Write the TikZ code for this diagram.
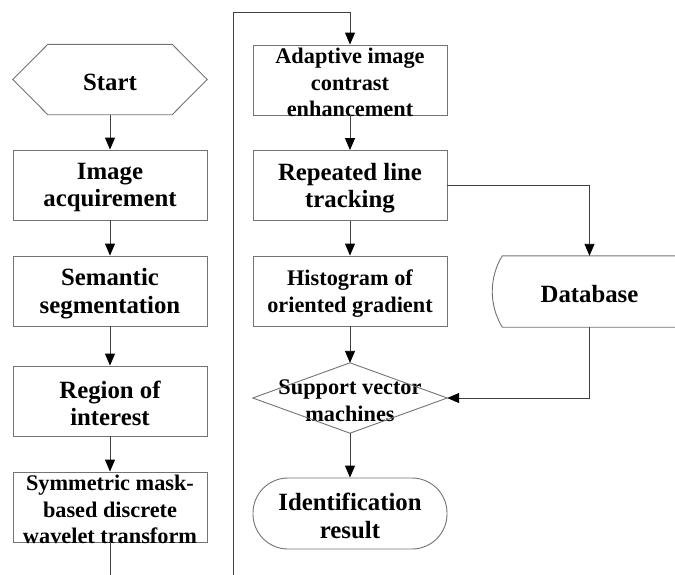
\documentclass[tikz,border=0pt]{standalone}
\usepackage{fontspec}
\setmainfont{Liberation Serif}
\usetikzlibrary{arrows.meta}

% fixed-size text block so every box keeps its drawn size
\newcommand\bigcell[1]{\parbox[c][60pt][c]{192pt}{\vspace*{5pt}\centering\fontsize{24.8}{27.5}\selectfont\bfseries #1}}
\newcommand\smallcell[1]{\parbox[c][60pt][c]{192pt}{\vspace*{5pt}\centering\fontsize{22.3}{26.5}\selectfont\bfseries #1}}

\begin{document}
\begin{tikzpicture}[x=1pt,y=-1pt,
  outline/.style={draw=black!55,line width=0.9pt},
  stepbox/.style={outline,rectangle,minimum width=194pt,minimum height=70pt,inner sep=0pt},
  bare/.style={rectangle,minimum width=194pt,minimum height=70pt,inner sep=0pt},
  flow/.style={draw=black!75,line width=0.9pt,-{Triangle[length=12pt,width=10pt,color=black]}},
  plain/.style={draw=black!75,line width=0.9pt}]

\useasboundingbox (0,0) rectangle (675,574);

% left column
\node[bare] (start) at (110,79.5) {\bigcell{Start}};
\draw[outline] (start.west) -- ([xshift=35pt]start.north west) -- ([xshift=-35pt]start.north east)
  -- (start.east) -- ([xshift=-35pt]start.south east) -- ([xshift=35pt]start.south west) -- cycle;
\node[stepbox] (img) at (110,185) {\bigcell{Image\\acquirement}};
\node[stepbox] (seg) at (110,291) {\bigcell{Semantic\\segmentation}};
\node[stepbox] (roi) at (110,401) {\bigcell{Region of\\interest}};
\node[stepbox] (sym) at (110,507) {\smallcell{Symmetric mask-\\based discrete\\wavelet transform}};

% right column
\node[stepbox] (ace) at (350,80) {\smallcell{Adaptive image\\contrast\\enhancement}};
\node[stepbox] (rlt) at (350,185.5) {\bigcell{Repeated line\\tracking}};
\node[stepbox] (hog) at (350,291) {\smallcell{Histogram of\\oriented gradient}};
\node[bare] (svm) at (350,398) {\smallcell{Support vector\\machines}};
\draw[outline] (svm.west) -- (svm.north) -- (svm.east) -- (svm.south) -- cycle;
\node[stepbox,rounded corners=35pt,minimum height=71pt] (idr) at (350,513.5) {\bigcell{Identification\\result}};

% stored data, its left side a circular arc
\node[bare,minimum height=71pt] (db) at (589.5,291.5) {\bigcell{Database}};
\draw[outline] ([xshift=10pt]db.north west) -- (db.north east)
  .. controls ([xshift=-10pt]db.east) .. (db.south east)
  -- ([xshift=10pt]db.south west)
  .. controls ([shift={(-3.4,-21.8)}]db.south west) and ([shift={(-3.4,21.8)}]db.north west)
  .. cycle;

% connectors
\draw[flow] (start) -- (img);
\draw[flow] (img) -- (seg);
\draw[flow] (seg) -- (roi);
\draw[flow] (roi) -- (sym);
\coordinate (leftout) at (110,580);
\draw[plain] (sym) -- (leftout);
\coordinate (rightin) at (233,580);
\coordinate (topbend) at (350,12);
\draw[flow] (rightin) |- (topbend) -- (ace);
\draw[flow] (ace) -- (rlt);
\draw[flow] (rlt) -- (hog);
\draw[flow] (hog) -- (svm.north);
\draw[flow] (svm.south) -- (idr);
\draw[flow] (rlt.east) -| (db.north);
\draw[flow] (db.south) |- (svm.east);
\end{tikzpicture}
\end{document}
